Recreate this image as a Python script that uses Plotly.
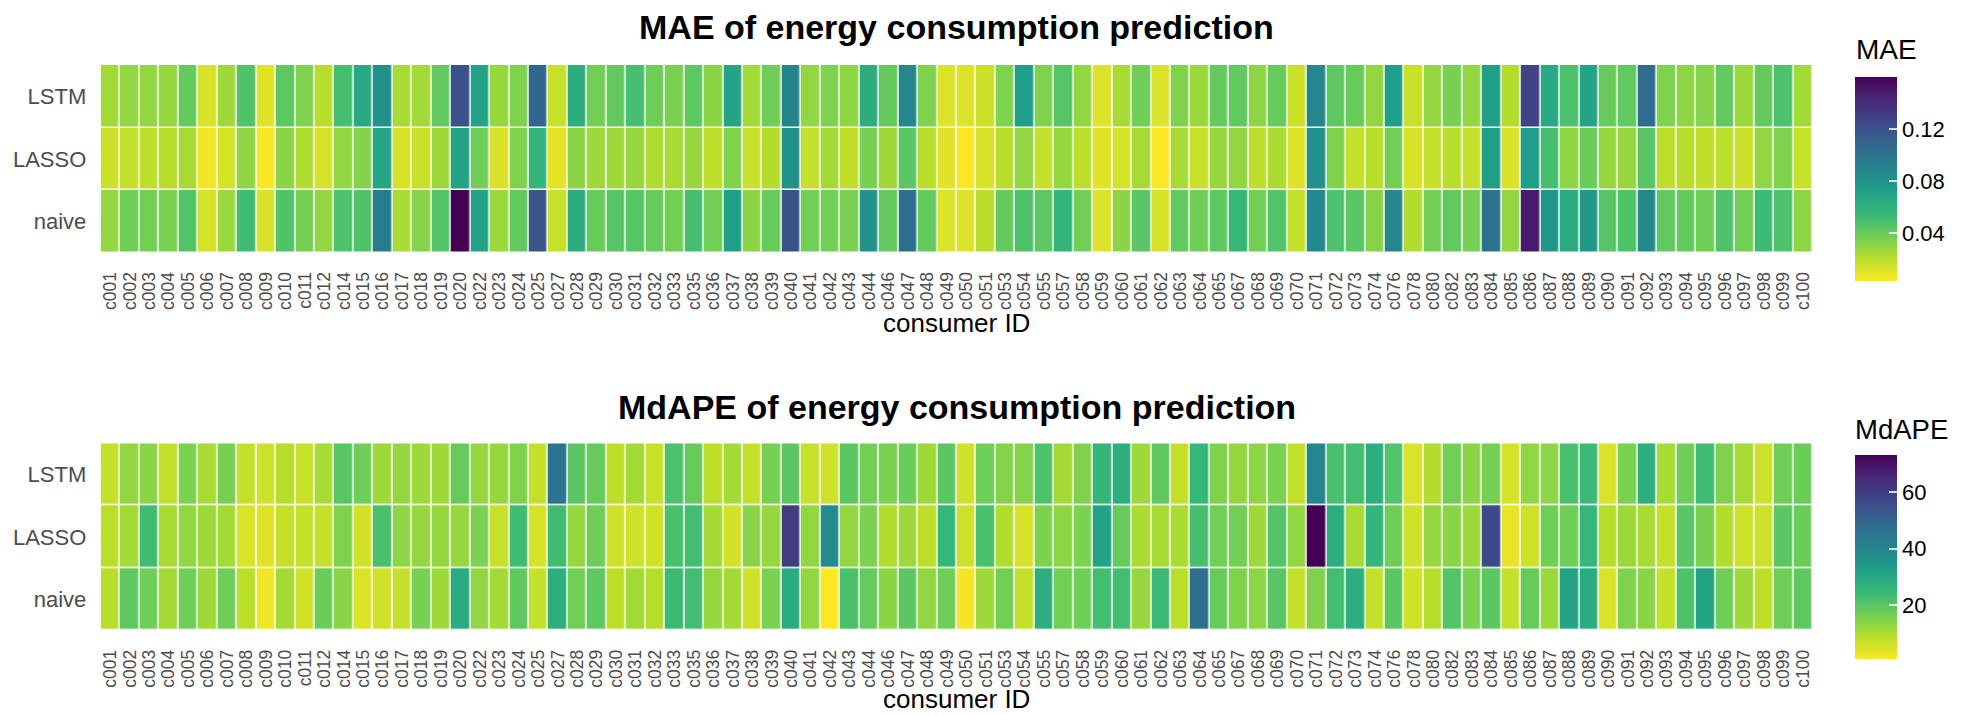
import plotly.graph_objects as go

# consumer IDs present in the evaluation set
consumers = [
    "c001", "c002", "c003", "c004", "c005", "c006", "c007", "c008", "c009", "c010",
    "c011", "c012", "c014", "c015", "c016", "c017", "c018", "c019", "c020", "c022",
    "c023", "c024", "c025", "c027", "c028", "c029", "c030", "c031", "c032", "c033",
    "c035", "c036", "c037", "c038", "c039", "c040", "c041", "c042", "c043", "c044",
    "c046", "c047", "c048", "c049", "c050", "c051", "c053", "c054", "c055", "c057",
    "c058", "c059", "c060", "c061", "c062", "c063", "c064", "c065", "c067", "c068",
    "c069", "c070", "c071", "c072", "c073", "c074", "c076", "c078", "c080", "c082",
    "c083", "c084", "c085", "c086", "c087", "c088", "c089", "c090", "c091", "c092",
    "c093", "c094", "c095", "c096", "c097", "c098", "c099", "c100",
]

# models, listed bottom to top
models = ["naive", "LASSO", "LSTM"]

# MAE per consumer
mae_lstm = [
    0.025, 0.029, 0.029, 0.028, 0.041, 0.012, 0.026, 0.047, 0.010, 0.043,
    0.034, 0.020, 0.050, 0.066, 0.081, 0.024, 0.025, 0.042, 0.120, 0.070,
    0.028, 0.034, 0.108, 0.016, 0.062, 0.037, 0.042, 0.050, 0.038, 0.035,
    0.043, 0.031, 0.069, 0.025, 0.038, 0.089, 0.029, 0.034, 0.030, 0.062,
    0.041, 0.088, 0.034, 0.011, 0.011, 0.015, 0.034, 0.073, 0.034, 0.045,
    0.029, 0.011, 0.024, 0.038, 0.011, 0.034, 0.027, 0.041, 0.042, 0.030,
    0.040, 0.015, 0.088, 0.043, 0.040, 0.029, 0.073, 0.015, 0.029, 0.036,
    0.029, 0.072, 0.021, 0.128, 0.066, 0.048, 0.069, 0.040, 0.042, 0.105,
    0.034, 0.030, 0.032, 0.042, 0.027, 0.041, 0.048, 0.025,
]
mae_lasso = [
    0.015, 0.017, 0.019, 0.020, 0.024, 0.006, 0.013, 0.030, 0.004, 0.031,
    0.022, 0.013, 0.029, 0.033, 0.067, 0.013, 0.016, 0.026, 0.070, 0.038,
    0.012, 0.034, 0.056, 0.009, 0.031, 0.026, 0.026, 0.028, 0.022, 0.024,
    0.028, 0.019, 0.034, 0.016, 0.021, 0.081, 0.017, 0.025, 0.018, 0.036,
    0.026, 0.044, 0.020, 0.010, 0.003, 0.012, 0.020, 0.029, 0.017, 0.028,
    0.019, 0.010, 0.013, 0.024, 0.003, 0.024, 0.016, 0.028, 0.029, 0.019,
    0.023, 0.011, 0.081, 0.034, 0.017, 0.020, 0.037, 0.012, 0.017, 0.020,
    0.017, 0.072, 0.012, 0.073, 0.050, 0.030, 0.039, 0.028, 0.028, 0.045,
    0.019, 0.020, 0.018, 0.019, 0.015, 0.029, 0.034, 0.016,
]
mae_naive = [
    0.029, 0.038, 0.037, 0.035, 0.046, 0.013, 0.027, 0.052, 0.012, 0.047,
    0.036, 0.029, 0.048, 0.047, 0.095, 0.024, 0.032, 0.046, 0.160, 0.070,
    0.027, 0.042, 0.118, 0.016, 0.062, 0.040, 0.045, 0.045, 0.040, 0.037,
    0.050, 0.037, 0.072, 0.031, 0.040, 0.120, 0.037, 0.037, 0.035, 0.080,
    0.041, 0.102, 0.041, 0.011, 0.011, 0.020, 0.041, 0.048, 0.043, 0.056,
    0.037, 0.011, 0.031, 0.044, 0.012, 0.042, 0.038, 0.043, 0.055, 0.037,
    0.046, 0.017, 0.086, 0.048, 0.044, 0.032, 0.088, 0.021, 0.037, 0.042,
    0.036, 0.100, 0.029, 0.149, 0.077, 0.064, 0.077, 0.045, 0.047, 0.086,
    0.042, 0.041, 0.038, 0.047, 0.037, 0.053, 0.048, 0.030,
]

# MdAPE (%) per consumer
mdape_lstm = [
    7.5, 13, 14, 7.4, 15.5, 10.5, 16, 7.2, 6.5, 9,
    7, 10.5, 20, 17, 11.5, 12.5, 11.5, 11.5, 18, 12.5,
    12.5, 15, 7.5, 46, 19.5, 18, 8, 11, 7, 21.5,
    18, 8, 11, 7.2, 16, 19.5, 7, 6, 19.5, 16.5,
    15.5, 17.5, 11.5, 19.5, 6, 17, 14.5, 14.5, 21.5, 11,
    15, 25.5, 28, 11.5, 19, 7.2, 25, 15, 12.5, 13.5,
    15.5, 7.2, 40, 22, 23, 28, 21, 4.8, 9.3, 16.5,
    14, 16, 5.5, 13, 13.5, 22, 24, 4.8, 15.5, 27.5,
    10.5, 17, 23.5, 15, 10.5, 6.5, 17, 17.5,
]
mdape_lasso = [
    8.5, 11, 23.5, 10.5, 13, 11.5, 11, 4.8, 4.5, 7.2,
    7.5, 7.2, 15, 5.8, 22, 13.5, 12.5, 12.5, 12.5, 15.5,
    7, 23.5, 5.3, 23.5, 12.5, 17, 6, 6, 6, 22,
    23, 11, 5.8, 14, 12.5, 60, 13, 38.5, 13, 15.5,
    9.5, 11.5, 8, 25, 6.2, 22, 9.5, 5.2, 15.5, 13.5,
    15.5, 32, 18, 10, 10.5, 10, 22.5, 16.5, 16.5, 11.5,
    20.5, 13, 73, 28, 10.5, 25.5, 17, 6, 12.5, 14,
    12, 57, 3.3, 6.2, 17, 17, 25, 9, 12, 10.5,
    7.3, 20, 16, 9.3, 6.5, 6.5, 19.5, 17.5,
]
mdape_naive = [
    8.7, 19, 17, 11, 17, 11.5, 17, 8.5, 2.5, 11,
    6, 17.5, 14, 4.8, 6, 7.2, 16, 11.5, 29, 13,
    11, 19, 7.5, 28, 16.5, 19, 8, 11, 9, 24,
    23, 12.5, 11, 6, 15.5, 29, 13, 1.0, 22, 18,
    14, 19.5, 13, 17, 2, 11.5, 16.5, 7.2, 28, 16.5,
    17, 23, 23, 12.5, 24, 8.5, 47, 18, 15, 13.5,
    20, 7.5, 15, 23, 28, 7.2, 19.5, 6, 9, 20.5,
    15.5, 19.5, 7.2, 18, 12, 31, 29, 5, 15, 14,
    7.5, 21.5, 31, 17, 11.5, 8, 17, 19,
]

mae_ticks = [0.04, 0.08, 0.12]
mdape_ticks = [20, 40, 60]

W, H = 1964, 715
FONT = "Liberation Sans, Arial, Helvetica, sans-serif"
GREY = "#4d4d4d"
CB_LEFT = 1855      # colour bar left edge (px)
CB_LEN = 204        # colour bar length (px)
CB_THICK = 42       # colour bar thickness (px)
TICK_COLOR = "rgba(255,255,255,0.8)"


def px_x(v):
    return v / W


def px_y(v):
    return 1 - v / H


def colorbar(tick_values, y_center_px):
    return dict(
        x=px_x(CB_LEFT), xanchor="left", xpad=0,
        y=px_y(y_center_px), yanchor="middle", ypad=0,
        len=CB_LEN, lenmode="pixels",
        thickness=CB_THICK, thicknessmode="pixels",
        outlinewidth=0,
        tickvals=tick_values,
        ticks="inside", ticklen=8, tickwidth=1.5,
        tickcolor=TICK_COLOR,
        tickfont=dict(family=FONT, size=22, color="black"),
    )


def left_tick_marks(fig, rows, tick_values, y_center_px):
    """Short white marks on the left edge of a colour bar, mirroring the inside ticks."""
    values = [v for row in rows for v in row]
    lo, hi = min(values), max(values)
    bottom = y_center_px + CB_LEN / 2
    for v in tick_values:
        ypx = bottom - (v - lo) / (hi - lo) * CB_LEN
        fig.add_shape(
            type="line", xref="paper", yref="paper",
            x0=px_x(CB_LEFT), x1=px_x(CB_LEFT + 8),
            y0=px_y(ypx), y1=px_y(ypx),
            line=dict(color=TICK_COLOR, width=1.5),
        )


mae_rows = [mae_naive, mae_lasso, mae_lstm]
mdape_rows = [mdape_naive, mdape_lasso, mdape_lstm]

fig = go.Figure()

fig.add_trace(go.Heatmap(
    x=consumers, y=models, z=mae_rows,
    colorscale="Viridis", reversescale=True,
    xgap=1.5, ygap=1.5,
    colorbar=colorbar(mae_ticks, 179),
    xaxis="x", yaxis="y",
    hovertemplate="%{x}<br>%{y}<br>MAE: %{z}<extra></extra>",
))

fig.add_trace(go.Heatmap(
    x=consumers, y=models, z=mdape_rows,
    colorscale="Viridis", reversescale=True,
    xgap=1.5, ygap=1.5,
    colorbar=colorbar(mdape_ticks, 557),
    xaxis="x2", yaxis="y2",
    hovertemplate="%{x}<br>%{y}<br>MdAPE: %{z}<extra></extra>",
))

left_tick_marks(fig, mae_rows, mae_ticks, 179)
left_tick_marks(fig, mdape_rows, mdape_ticks, 557)

x_dom = [px_x(100.7), px_x(1812.7)]

xaxis_style = dict(
    type="category", domain=x_dom,
    tickmode="linear", dtick=1,
    tickangle=-90, tickfont=dict(family=FONT, size=17.5, color=GREY),
    ticks="outside", ticklen=11, tickcolor="rgba(0,0,0,0)",
    showgrid=False, zeroline=False, showline=False,
)
yaxis_style = dict(
    type="category", categoryorder="array", categoryarray=models,
    tickfont=dict(family=FONT, size=22, color=GREY),
    ticks="outside", ticklen=9, tickcolor="rgba(0,0,0,0)",
    showgrid=False, zeroline=False, showline=False,
)

fig.update_layout(
    width=W, height=H,
    margin=dict(l=0, r=0, t=0, b=0, autoexpand=False),
    paper_bgcolor="white", plot_bgcolor="white",
    font=dict(family=FONT),
    xaxis=dict(xaxis_style, anchor="y"),
    yaxis=dict(yaxis_style, anchor="x", domain=[px_y(253), px_y(65)]),
    xaxis2=dict(xaxis_style, anchor="y2"),
    yaxis2=dict(yaxis_style, anchor="x2", domain=[px_y(630.7), px_y(443.3)]),
)

cx = (x_dom[0] + x_dom[1]) / 2
texts = [
    ("MAE of energy consumption prediction", cx, 27, 34, True, "center"),
    ("MdAPE of energy consumption prediction", cx, 407, 34, True, "center"),
    ("consumer ID", cx, 323, 26, False, "center"),
    ("consumer ID", cx, 699, 26, False, "center"),
    ("MAE", px_x(1855), 50, 28, False, "left"),
    ("MdAPE", px_x(1854), 429, 27.5, False, "left"),
]
for txt, x, ypx, size, bold, anchor in texts:
    fig.add_annotation(
        text=f"<b>{txt}</b>" if bold else txt,
        x=x, y=px_y(ypx), xref="paper", yref="paper",
        xanchor=anchor, yanchor="middle", showarrow=False,
        borderpad=0,
        font=dict(family=FONT, size=size, color="black"),
    )

fig.write_html("out.html", config={"displayModeBar": False})
